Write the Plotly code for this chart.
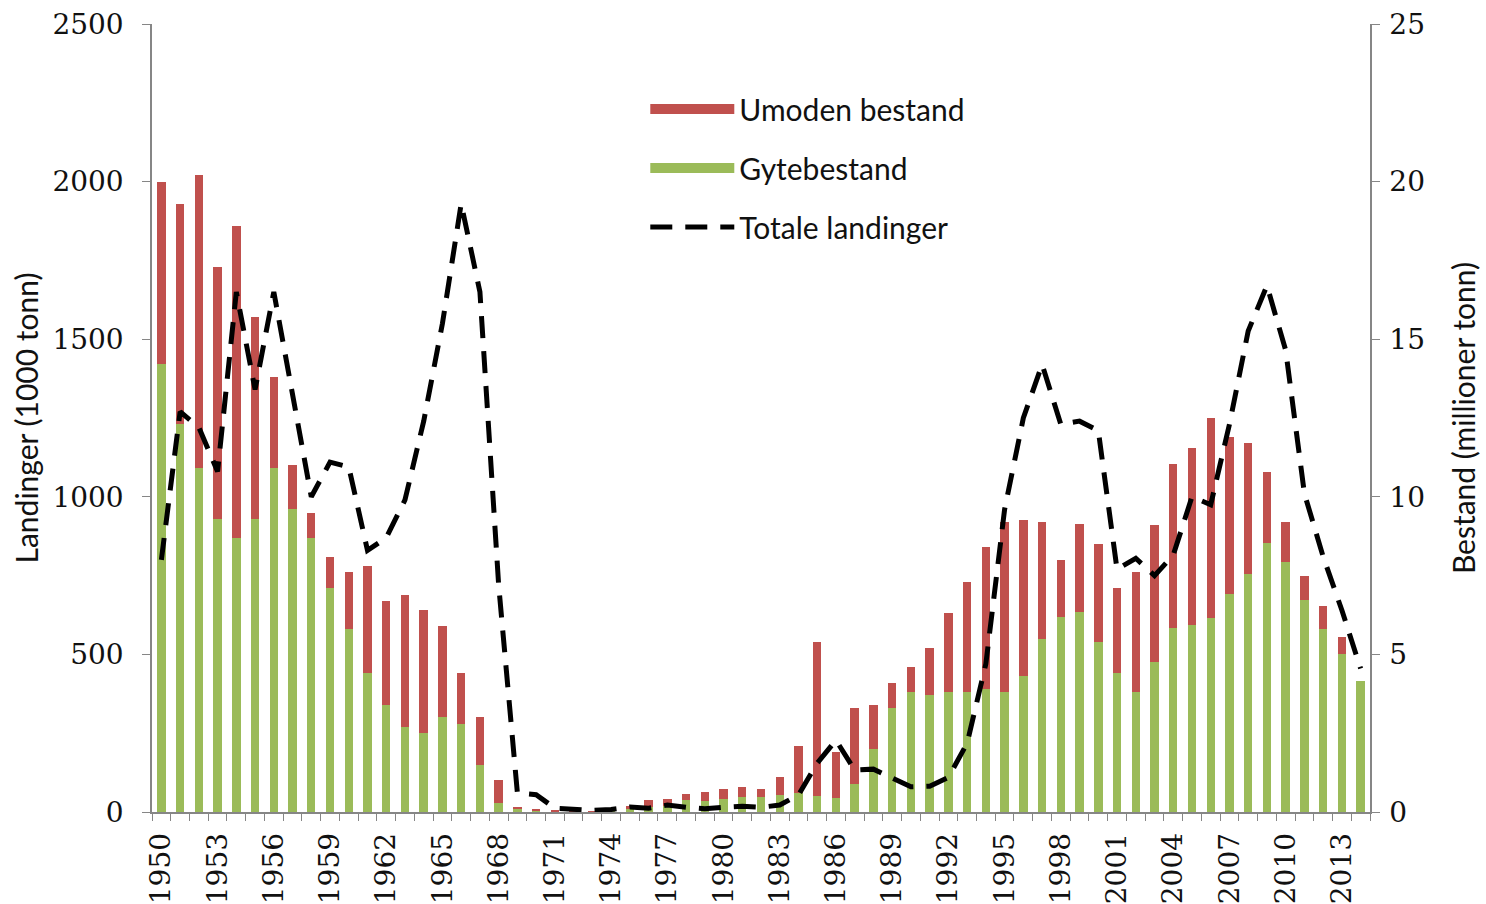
import plotly.graph_objects as go

years = list(range(1950, 2015))

# Gytebestand (spawning stock), million tonnes
gytebestand = [14.2, 12.3, 10.9, 9.3, 8.7, 9.3, 10.9, 9.6, 8.7, 7.1,
               5.8, 4.4, 3.4, 2.7, 2.5, 3.0, 2.8, 1.5, 0.3, 0.1,
               0.05, 0.03, 0.02, 0.02, 0.05, 0.1, 0.15, 0.2, 0.38, 0.35,
               0.41, 0.48, 0.48, 0.54, 0.6, 0.5, 0.44, 0.9, 2.0, 3.3,
               3.8, 3.7, 3.8, 3.8, 3.9, 3.8, 4.3, 5.5, 6.2, 6.35,
               5.4, 4.4, 3.8, 4.75, 5.85, 5.93, 6.17, 6.93, 7.56, 8.55,
               7.92, 6.74, 5.82, 5.02, 4.15]

# Umoden bestand (immature stock), million tonnes
umoden = [5.8, 7.0, 9.3, 8.0, 9.9, 6.4, 2.9, 1.4, 0.8, 1.0,
          1.8, 3.4, 3.3, 4.2, 3.9, 2.9, 1.6, 1.5, 0.7, 0.06,
          0.05, 0.02, 0.01, 0.01, 0.05, 0.1, 0.23, 0.2, 0.19, 0.28,
          0.32, 0.32, 0.25, 0.56, 1.5, 4.9, 1.46, 2.4, 1.4, 0.8,
          0.8, 1.5, 2.5, 3.5, 4.5, 5.4, 4.95, 3.7, 1.8, 2.8,
          3.1, 2.7, 3.8, 4.35, 5.2, 5.62, 6.33, 4.97, 4.14, 2.25,
          1.28, 0.76, 0.73, 0.53, 0.0]

# Totale landinger, 1000 tonnes
landinger = [800, 1270, 1220, 1080, 1650, 1340, 1650, 1320, 1000, 1110,
             1095, 830, 870, 990, 1240, 1550, 1930, 1650, 720, 60,
             55, 12, 10, 5, 8, 16, 12, 22, 15, 10,
             15, 18, 15, 22, 54, 155, 228, 133, 136, 107,
             80, 82, 110, 218, 470, 960, 1250, 1420, 1230, 1240,
             1210, 770, 805, 750, 815, 1000, 975, 1230, 1526, 1670,
             1465, 1010, 810, 640, 455]

tick_years = list(range(1950, 2014, 3))
tick_labels = [str(y) for y in tick_years]

RED = "#C0504D"
GREEN = "#9BBB59"
AXIS = "#868686"
TXT = "#111111"
serif = dict(family="DejaVu Serif", size=28, color=TXT)
sans = "Lato"

fig = go.Figure()
fig.add_trace(go.Bar(x=years, y=gytebestand, name="Gytebestand", marker_color=GREEN,
                     marker_line_width=0, yaxis="y", showlegend=False, legendgroup="gyte"))
fig.add_trace(go.Bar(x=years, y=umoden, name="Umoden bestand", marker_color=RED,
                     marker_line_width=0, yaxis="y", showlegend=False, legendgroup="umoden"))
fig.add_trace(go.Scatter(x=years, y=landinger, name="Totale landinger", mode="lines",
                         line=dict(color="black", width=5, dash="22px,13px"),
                         yaxis="y2", legendrank=3, legendgroup="land"))
# legend keys for the stacked bars (wide colour blocks, as in the original)
fig.add_trace(go.Scatter(x=[None], y=[None], mode="lines", name="Umoden bestand",
                         line=dict(color=RED, width=20), yaxis="y", legendrank=1,
                         legendgroup="umoden"))
fig.add_trace(go.Scatter(x=[None], y=[None], mode="lines", name="Gytebestand",
                         line=dict(color=GREEN, width=20), yaxis="y", legendrank=2,
                         legendgroup="gyte"))

fig.update_layout(
    width=1486, height=904,
    margin=dict(l=152, r=116, t=24, b=92),
    paper_bgcolor="white", plot_bgcolor="white",
    barmode="stack", bargap=0.55,
    showlegend=True,
    legend=dict(x=0.405, y=0.925, xanchor="left", yanchor="top",
                traceorder="grouped", tracegroupgap=17, itemwidth=84,
                font=dict(family=sans, size=30, color=TXT),
                bgcolor="rgba(0,0,0,0)"),
    xaxis=dict(range=[1949.5, 2014.5], tickmode="array", tickvals=tick_years,
               ticktext=tick_labels, tickangle=-90, tickfont=serif,
               showline=True, linecolor=AXIS, linewidth=1.5, ticks="",
               ticklabelstandoff=8, automargin=False,
               minor=dict(tickmode="linear", tick0=1949.5, dtick=1, ticks="outside",
                          ticklen=7, tickcolor=AXIS, tickwidth=1),
               showgrid=False, zeroline=False),
    yaxis=dict(range=[0, 25], dtick=5, side="right", showline=True, linecolor=AXIS,
               linewidth=1.5, ticks="outside", ticklen=8, tickcolor=AXIS,
               tickfont=serif, showgrid=False, zeroline=False, ticklabelstandoff=4,
               automargin=False,
               title=dict(text="Bestand (millioner tonn)",
                          font=dict(family=sans, size=30, color=TXT), standoff=30)),
    yaxis2=dict(range=[0, 2500], dtick=500, side="left", overlaying="y", showline=True,
                linecolor=AXIS, linewidth=1.5, ticks="outside", ticklen=8, tickcolor=AXIS,
                tickfont=serif, showgrid=False, zeroline=False, ticklabelstandoff=13,
                automargin=False,
                title=dict(text="Landinger (1000 tonn)",
                           font=dict(family=sans, size=30, color=TXT), standoff=5)),
)

fig.write_html("out.html", config={"displayModeBar": False},
               post_script="document.body.style.margin='0';")
